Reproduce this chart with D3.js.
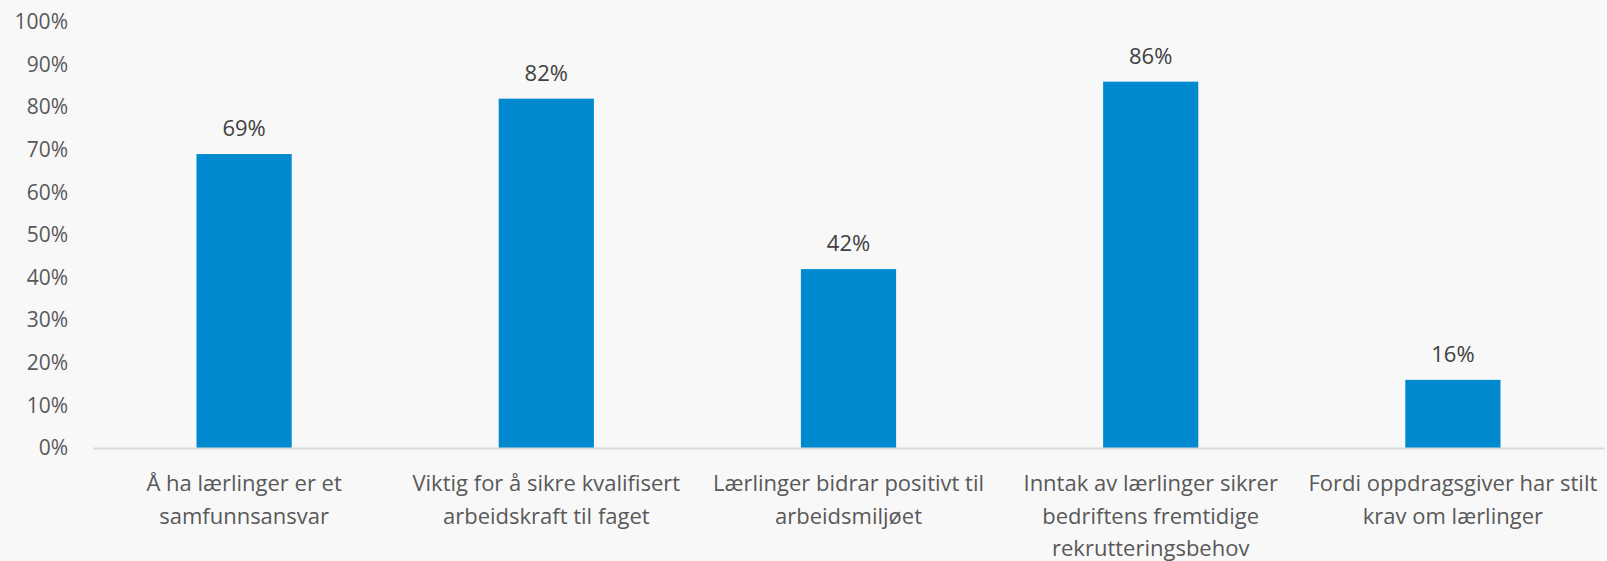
<!DOCTYPE html>
<html>
<head>
<meta charset="utf-8">
<script src="https://cdn.jsdelivr.net/npm/d3@7"></script>
<style>
    body { margin: 0; background: #f8f8f8; }
    text { font-family: "Segoe UI", "Open Sans", sans-serif; }
</style>
</head>
<body>
<div id="chart"></div>
<script>
// Chart data
const categories = [
    "Å ha lærlinger er et\nsamfunnsansvar",
    "Viktig for å sikre kvalifisert\narbeidskraft til faget",
    "Lærlinger bidrar positivt til\narbeidsmiljøet",
    "Inntak av lærlinger sikrer\nbedriftens fremtidige\nrekrutteringsbehov",
    "Fordi oppdragsgiver har stilt\nkrav om lærlinger"
]
const values = [0.69, 0.82, 0.42, 0.86, 0.16]
const yTicks = [0, 0.1, 0.2, 0.3, 0.4, 0.5, 0.6, 0.7, 0.8, 0.9, 1.0]

function drawChart(container) {
    const WIDTH = 1607
    const HEIGHT = 561
    const margin = { top: 22, right: 3, bottom: 113, left: 93 }

    let svg = d3.select(container).append("svg")
        .attr("width", WIDTH)
        .attr("height", HEIGHT)
        .style("display", "block")
        .style("background", "#f8f8f8")

    const x = d3.scaleBand()
        .domain(categories)
        .range([margin.left, WIDTH - margin.right])
        .paddingInner(0.685)
        .paddingOuter(0.3425)

    const y = d3.scaleLinear()
        .domain([0, 1])
        .range([HEIGHT - margin.bottom, margin.top])

    // y axis labels, no line
    let yAxis = svg.append("g")
        .attr("transform", `translate(${margin.left - 25},0)`)
        .call(d3.axisLeft(y).tickValues(yTicks).tickFormat(d3.format(".0%")).tickSize(0))
    yAxis.select(".domain").remove()
    yAxis.selectAll("text")
        .attr("x", 0)
        .attr("fill", "#595959")
        .style("font-size", "21px")

    // bars
    svg.selectAll("rect.bar")
        .data(values)
        .enter()
        .append("rect")
            .attr("class", "bar")
            .attr("x", (d, i) => x(categories[i]))
            .attr("y", d => y(d))
            .attr("width", x.bandwidth())
            .attr("height", d => y(0) - y(d))
            .attr("fill", "#0089ce")

    // baseline
    let xAxis = svg.append("g")
        .attr("transform", `translate(0,${y(0)})`)
        .call(d3.axisBottom(x).tickSize(0).tickFormat(""))
    xAxis.select(".domain")
        .attr("stroke", "#d9d9d9")
        .attr("stroke-width", 2)

    // category labels, one tspan per line
    let labels = svg.append("g")
        .selectAll("text")
        .data(categories)
        .enter()
        .append("text")
            .attr("text-anchor", "middle")
            .attr("fill", "#595959")
            .style("font-size", "22px")
            .attr("transform", d => `translate(${x(d) + x.bandwidth() / 2},${y(0) + 43})`)
    labels.selectAll("tspan")
        .data(d => d.split("\n"))
        .enter()
        .append("tspan")
            .attr("x", 0)
            .attr("y", (d, i) => i * 32.5)
            .text(d => d)

    // value labels
    svg.selectAll("text.value")
        .data(values)
        .enter()
        .append("text")
            .attr("class", "value")
            .attr("text-anchor", "middle")
            .attr("fill", "#404040")
            .style("font-size", "22px")
            .attr("x", (d, i) => x(categories[i]) + x.bandwidth() / 2)
            .attr("y", d => y(d) - 18)
            .text(d => d3.format(".0%")(d))
}

drawChart("#chart")
</script>
</body>
</html>
